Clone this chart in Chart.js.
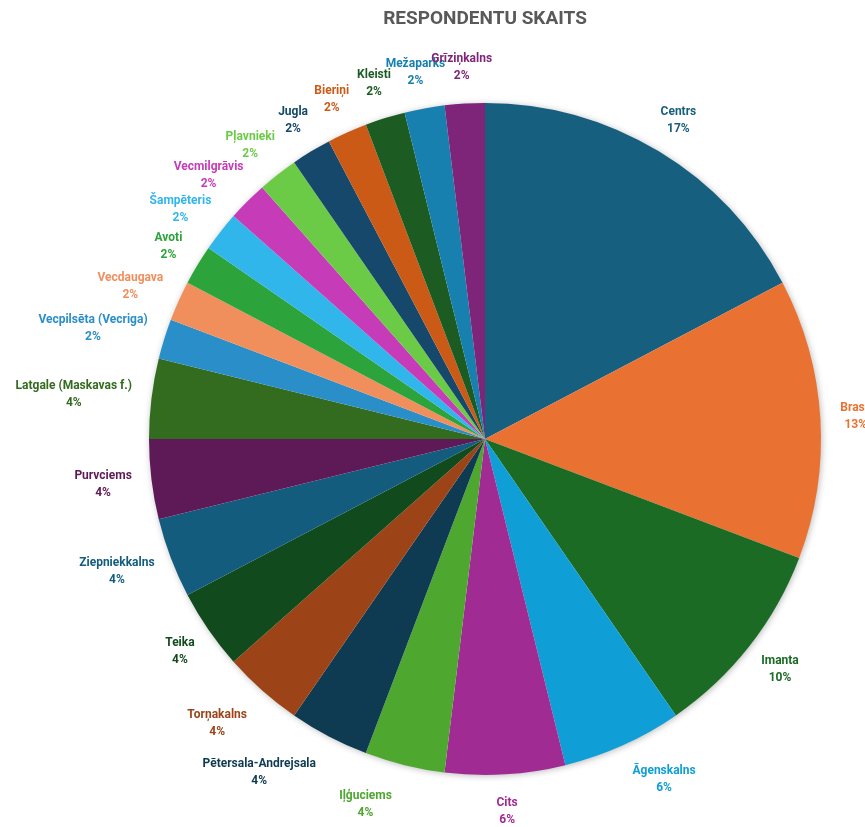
<!DOCTYPE html>
<html>
<head>
<meta charset="utf-8">
<script src="https://cdn.jsdelivr.net/npm/chart.js@4/dist/chart.umd.min.js"></script>
<style>
	html, body { margin: 0; padding: 0; background: #fff; }
	#box { width: 865px; height: 827px; }
</style>
</head>
<body>
<div id="box"><canvas id="respondenti"></canvas></div>
<script>
	// apkaimes, pulksteņrādītāja virzienā no augšas
	var apkaimes = ["Centrs", "Brasa", "Imanta", "Āgenskalns", "Cits", "Iļģuciems", "Pētersala-Andrejsala", "Torņakalns", "Teika", "Ziepniekkalns", "Purvciems", "Latgale (Maskavas f.)", "Vecpilsēta (Vecriga)", "Vecdaugava", "Avoti", "Šampēteris", "Vecmilgrāvis", "Pļavnieki", "Jugla", "Bieriņi", "Kleisti", "Mežaparks", "Grīziņkalns"];
	var skaits = [9, 7, 5, 3, 3, 2, 2, 2, 2, 2, 2, 2, 1, 1, 1, 1, 1, 1, 1, 1, 1, 1, 1];
	var krasas = ["#175f7f", "#e97132", "#1b6b25", "#109ed6", "#a02b93", "#4ea72e", "#0f3b52", "#9c4417", "#114a1c", "#135c7e", "#5e1a57", "#336b1f", "#2a8fc8", "#f08f5c", "#2ca33b", "#31b6ec", "#c63cb8", "#6ccb46", "#15486a", "#cc5a17", "#1c5c23", "#1780ae", "#7e2479"];

	var kopa = skaits.reduce((a, b) => a + b, 0);

	// etiķetes ārpus sektoriem: nosaukums + procenti
	var etiketes = {
		id: 'etiketes',
		afterDatasetsDraw(chart) {
			const ctx = chart.ctx;
			const arcs = chart.getDatasetMeta(0).data;
			// nelielas nobīdes, kā Excel izvairās no pārklāšanās
			const nobide = { 3: [20, 0], 5: [-28, 3], 6: [-34, 3], 7: [-12, 5] };
			ctx.save();
			ctx.font = "bold 12px Roboto";
			ctx.textAlign = "center";
			ctx.textBaseline = "middle";
			arcs.forEach((arc, i) => {
				const p = arc.getProps(['x', 'y', 'startAngle', 'endAngle', 'outerRadius'], true);
				const mid = (p.startAngle + p.endAngle) / 2;
				const c = Math.cos(mid), s = Math.sin(mid);
				const name = apkaimes[i];
				const pct = Math.round(skaits[i] / kopa * 100) + "%";
				const w = Math.max(ctx.measureText(name).width, ctx.measureText(pct).width);
				const h = 34;
				const r = p.outerRadius + 20;
				const d = nobide[i] || [0, 0];
				const cx = p.x + r * c + w / 2 * c + d[0];
				const cy = p.y + r * s + h / 2 * s + d[1];
				ctx.fillStyle = krasas[i];
				ctx.fillText(name, cx, cy - 8);
				ctx.fillText(pct, cx, cy + 9);
			});
			ctx.restore();
		}
	};

	// viegla ēna ap visu apli (vienreiz, lai starp sektoriem nav līniju)
	var ena = {
		id: 'ena',
		beforeDatasetsDraw(chart) {
			const arc = chart.getDatasetMeta(0).data[0];
			if (!arc) return;
			const ctx = chart.ctx;
			ctx.save();
			ctx.shadowColor = "rgba(0,0,0,0.3)";
			ctx.shadowBlur = 7;
			ctx.shadowOffsetX = 1;
			ctx.shadowOffsetY = 1;
			ctx.fillStyle = "#ffffff";
			ctx.beginPath();
			ctx.arc(arc.x, arc.y, arc.outerRadius - 0.5, 0, Math.PI * 2);
			ctx.fill();
			ctx.restore();
		}
	};

	var myChart = new Chart(document.getElementById("respondenti"), {
		type: 'pie',
		data: {
			labels: apkaimes,
			datasets: [{
				data: skaits,
				backgroundColor: krasas,
				borderWidth: 0
			}]
		},
		options: {
			responsive: true,
			maintainAspectRatio: false,
			animation: false,
			layout: {
				padding: { left: 149, right: 44, top: 0, bottom: 52 }
			},
			plugins: {
				legend: { display: false },
				tooltip: { enabled: false },
				title: {
					display: true,
					text: "RESPONDENTU SKAITS",
					color: "#595959",
					font: { family: "Roboto", size: 19, weight: "bold" },
					padding: { top: 8, bottom: 72 }
				}
			}
		},
		plugins: [ena, etiketes]
	});
</script>
</body>
</html>
